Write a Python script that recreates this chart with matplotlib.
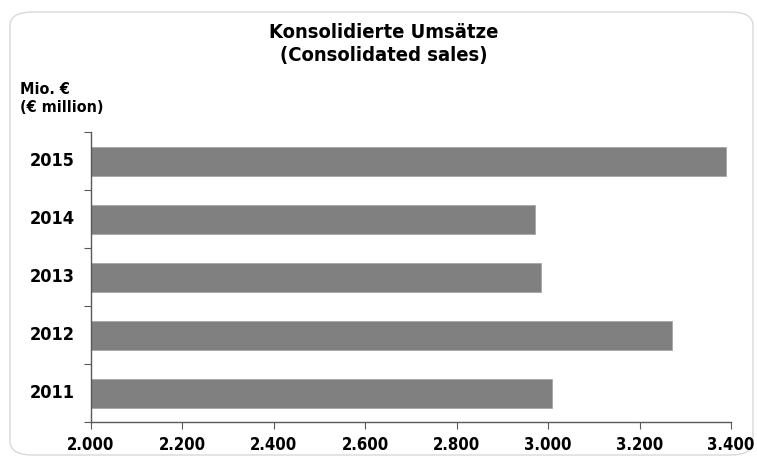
import matplotlib
matplotlib.use("Agg")
import matplotlib.pyplot as plt
from matplotlib.patches import FancyBboxPatch

years = ["2011", "2012", "2013", "2014", "2015"]
sales = [3008, 3271, 2984, 2971, 3389]
xticks = [2000, 2200, 2400, 2600, 2800, 3000, 3200, 3400]
xticklabels = ["2.000", "2.200", "2.400", "2.600", "2.800", "3.000", "3.200", "3.400"]

plt.rcParams['font.family'] = ['DejaVu Sans']
W, H = 757, 457
fig = plt.figure(figsize=(W/100, H/100), dpi=100)

# rounded frame
frame = FancyBboxPatch((10/W, 2/H), (W-14)/W, (H-14)/H,
                       boxstyle="round,pad=0,rounding_size=0.03",
                       transform=fig.transFigure, facecolor='white',
                       edgecolor='#d9d9d9', linewidth=1.0, zorder=-10)
fig.patches.append(frame)

ax = fig.add_axes([91/W, 1-422/H, (731-91)/W, (422-132)/H])
ax.set_facecolor('none')
pos = list(range(len(years)))
ax.barh(pos, [s - 2000 for s in sales], left=2000, height=0.5,
        color='#808080', edgecolor='#a6a6a6', linewidth=0.6)
ax.set_xlim(2000, 3400)
ax.set_ylim(-0.5, 4.5)

for s in ['top', 'right']:
    ax.spines[s].set_visible(False)
for s in ['left', 'bottom']:
    ax.spines[s].set_color('#595959')
    ax.spines[s].set_linewidth(1.0)

ax.set_xticks(xticks)
ax.set_xticklabels(xticklabels, fontsize=12, fontweight='bold', fontstretch='condensed')
ax.tick_params(axis='x', direction='out', length=5, color='#595959', pad=5)

# category ticks at boundaries, labels at centers
ax.set_yticks([p - 0.5 for p in pos] + [4.5])
ax.set_yticklabels([])
ax.tick_params(axis='y', direction='out', length=5, color='#595959')
for p, y in zip(pos, years):
    ax.text(-0.025, p, y, transform=ax.get_yaxis_transform(), ha='right', va='center',
            fontsize=13, fontweight='bold', fontstretch='condensed')

fig.text(384/W, 1-32/H, "Konsolidierte Umsätze", ha='center', va='center',
         fontsize=14.5, fontweight='bold', fontstretch='condensed')
fig.text(384/W, 1-55/H, "(Consolidated sales)", ha='center', va='center',
         fontsize=14.5, fontweight='bold', fontstretch='condensed')
fig.text(20/W, 1-90/H, "Mio. €", ha='left', va='center',
         fontsize=11.5, fontweight='bold', fontstretch='condensed')
fig.text(20/W, 1-108/H, "(€ million)", ha='left', va='center',
         fontsize=11.5, fontweight='bold', fontstretch='condensed')

fig.savefig("out.png", dpi=100, facecolor='white')
